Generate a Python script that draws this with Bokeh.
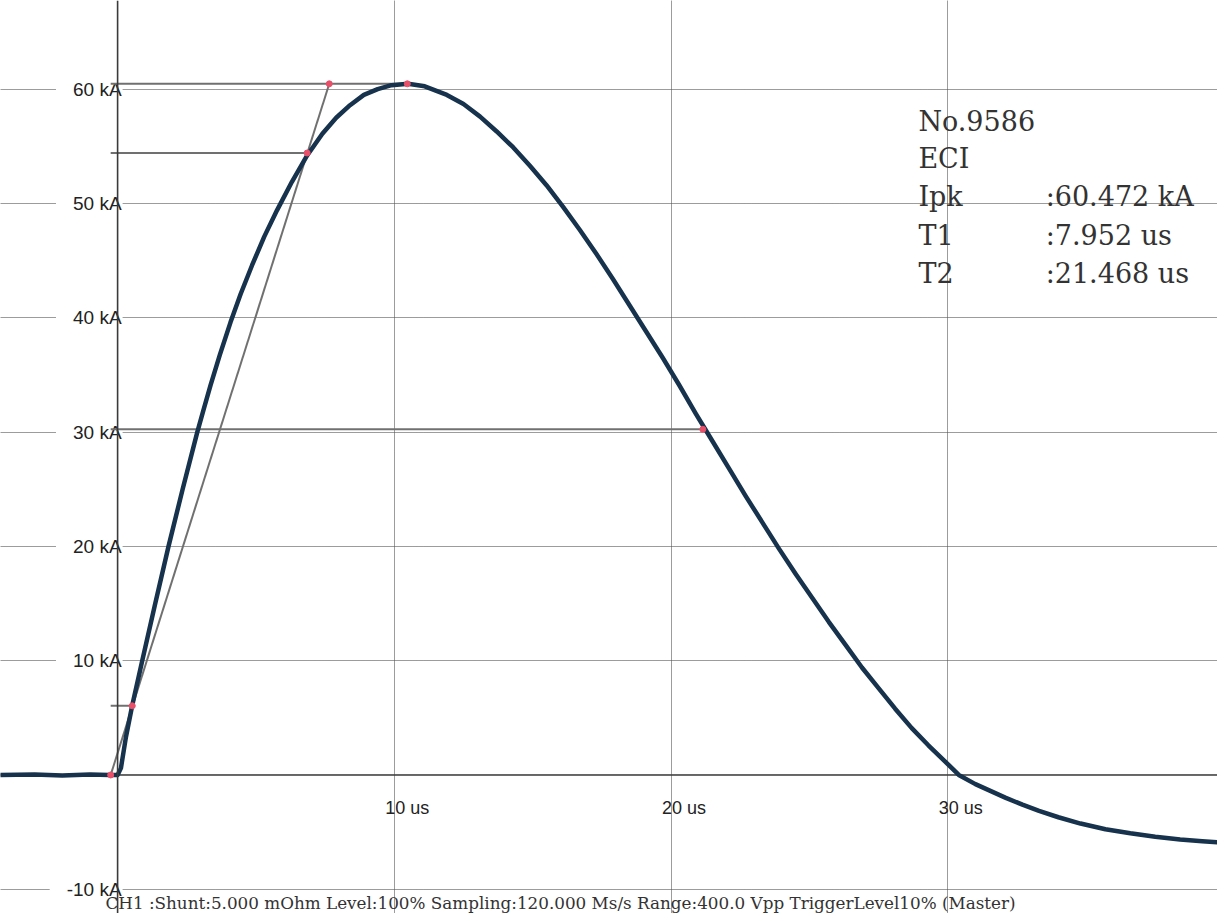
from bokeh.plotting import figure
from bokeh.models import Range1d, Span, Grid, FixedTicker
from bokeh.core.properties import value
from bokeh.embed import file_html
from bokeh.resources import INLINE

# ---- waveform (time in us, current in kA) ----
t_us = [-4.25, -3.0, -2.0, -1.0, -0.3, 0.0, 0.12, 0.3, 0.53, 0.89, 1.35, 1.84, 2.35, 2.88,
        3.1, 3.36, 3.7, 4.08, 4.45, 4.86, 5.3, 5.76, 6.3, 6.85, 7.4, 7.9, 8.4, 8.9, 9.4,
        9.9, 10.5, 11.1, 11.9, 12.5, 13.1, 13.7, 14.3, 14.9, 15.5, 16.1, 16.7, 17.3, 17.9,
        18.5, 19.1, 19.7, 20.3, 20.9, 21.5, 22.1, 22.7, 23.3, 23.9, 24.5, 25.1, 25.7,
        26.3, 26.9, 27.5, 28.1, 28.7, 29.3, 29.9, 30.4, 31.0, 31.5, 32.1, 32.7, 33.3,
        34.0, 34.8, 35.7, 36.6, 37.5, 38.4, 39.2, 39.8]
i_ka = [0.0, 0.05, -0.05, 0.05, 0.0, 0.0, 0.6, 3.3, 6.1, 10.0, 14.9, 20.0, 25.0, 30.0,
        31.9, 34.1, 36.8, 39.6, 42.1, 44.6, 47.1, 49.4, 51.9, 54.2, 56.1, 57.5, 58.6, 59.5, 60.0,
        60.35, 60.47, 60.25, 59.5, 58.7, 57.6, 56.3, 54.9, 53.3, 51.6, 49.7, 47.7, 45.6, 43.4,
        41.1, 38.8, 36.5, 34.1, 31.6, 29.2, 26.8, 24.4, 22.1, 19.8, 17.6, 15.5, 13.4,
        11.4, 9.4, 7.6, 5.8, 4.1, 2.6, 1.2, 0.0, -0.8, -1.35, -2.0, -2.6, -3.15,
        -3.7, -4.25, -4.75, -5.1, -5.4, -5.65, -5.8, -5.9]

# measurement markers (10 %, 90 %, 100 %, 50 % construction)
mark_t = [-0.25, 0.53, 6.85, 7.65, 10.47, 21.15]
mark_i = [0.0, 6.05, 54.42, 60.47, 60.47, 30.24]
level_i = [6.05, 54.42, 60.47, 30.24]
level_t_end = [0.53, 6.85, 10.47, 21.15]
level_t_start = -0.25
front_t = [-0.25, 7.65]
front_i = [0.0, 60.47]

# axis ticks / labels
y_ticks = [60, 50, 40, 30, 20, 10, -10]
y_labels = ["60 kA", "50 kA", "40 kA", "30 kA", "20 kA", "10 kA", "-10 kA"]
x_ticks = [10, 20, 30]
x_labels = ["10 us", "20 us", "30 us"]

# info block
info_names = ["No.9586", "ECI", "Ipk", "T1", "T2"]
info_values = ["", "", ":60.472 kA", ":7.952 us", ":21.468 us"]
info_y = [57.2, 53.9, 50.6, 47.2, 43.9]
footer = "CH1 :Shunt:5.000 mOhm  Level:100%  Sampling:120.000 Ms/s Range:400.0 Vpp TriggerLevel10%  (Master)"

p = figure(width=1217, height=913, x_range=Range1d(-4.232, 39.75), y_range=Range1d(-12.12, 67.76),
           output_backend="svg", toolbar_location=None, x_axis_location=None, y_axis_location=None,
           min_border=0, min_border_left=0, min_border_right=0, min_border_top=0, min_border_bottom=0)
p.outline_line_color = None
p.background_fill_color = "white"
p.border_fill_color = "white"

grid_style = dict(grid_line_color="#444444", grid_line_dash="1 1", grid_line_width=1, grid_line_alpha=0.9)
p.add_layout(Grid(dimension=0, ticker=FixedTicker(ticks=x_ticks), **grid_style))
p.add_layout(Grid(dimension=1, ticker=FixedTicker(ticks=y_ticks), **grid_style))

# zero line
p.add_layout(Span(location=0, dimension="width", line_color="#3a3a3a", line_width=1.6, level="underlay"))

# y labels with white background interrupting grid
p.text(x=[0] * len(y_ticks), y=y_ticks, text=y_labels, text_align="right", text_baseline="middle",
       x_offset=5, text_font=value("Liberation Sans"), text_font_size="19px", text_color="#222222",
       background_fill_color="white", padding=dict(left=17, right=1, top=1, bottom=1))

# vertical axis line
p.add_layout(Span(location=0, dimension="height", line_color="#3a3a3a", line_width=1.6))

# x labels
p.text(x=x_ticks, y=[0] * len(x_ticks), text=x_labels, text_align="left", text_baseline="middle",
       x_offset=-9, y_offset=33, text_font=value("Liberation Sans"), text_font_size="18px",
       text_color="#222222")

# construction lines
p.segment(x0=[level_t_start] * len(level_i), y0=level_i, x1=level_t_end, y1=level_i,
          line_color="#707070", line_width=2)
p.line(front_t, front_i, line_color="#707070", line_width=2)

# waveform
p.line(t_us, i_ka, line_color="#16324c", line_width=4.5, line_join="round")

# markers
p.scatter(mark_t, mark_i, size=6, fill_color="#e8506a", line_color="#e8506a")

# info block
p.text(x=[28.94] * 5, y=info_y, text=info_names, text_font=value("DejaVu Serif"),
       text_font_size="27px", text_color="#333333", text_baseline="alphabetic")
p.text(x=[33.54] * 5, y=info_y, text=info_values, text_font=value("DejaVu Serif"),
       text_font_size="27px", text_color="#333333", text_baseline="alphabetic")

# footer
p.text(x=[-0.44], y=[-11.22], text=[footer], text_font=value("DejaVu Serif"),
       text_font_size="16.8px", text_color="#333333", text_baseline="alphabetic")

open("out.html", "w").write(file_html(p, INLINE))
